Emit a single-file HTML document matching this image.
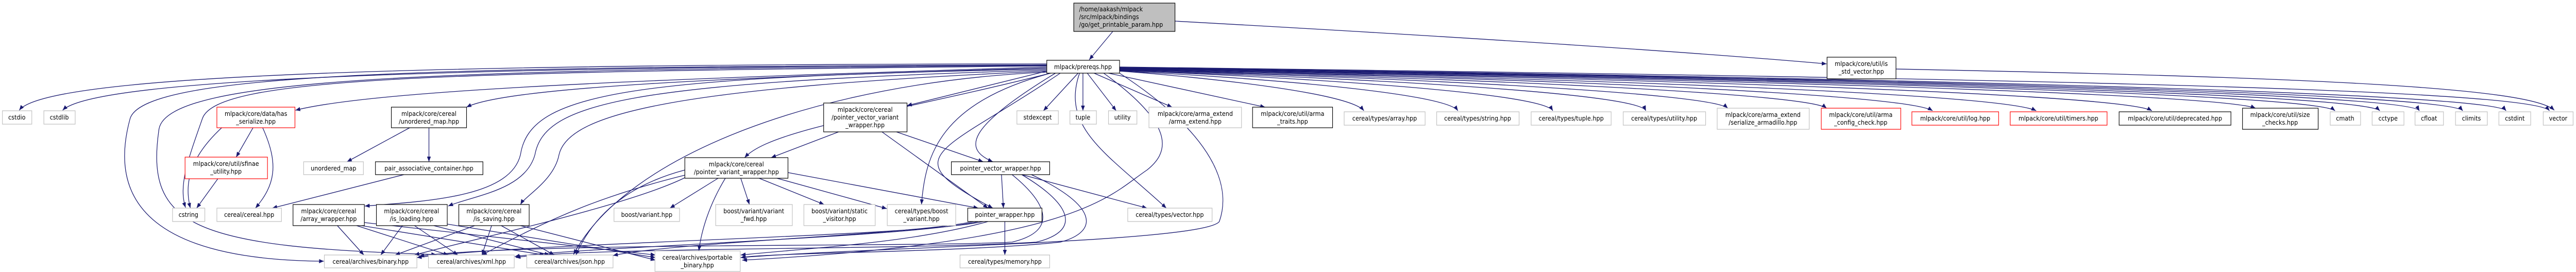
<!DOCTYPE html>
<html><head><meta charset="utf-8"><style>
html,body{margin:0;padding:0;background:#fff;width:100%;height:100%;overflow:hidden}
svg{display:block;position:absolute;left:0;top:0;width:100%;height:100%}
svg text{font-family:"DejaVu Sans","Liberation Sans",sans-serif;font-size:12px;fill:#000}
.e{fill:none;stroke:#191970;stroke-width:1.3}
.b{fill:#fff;stroke:#000;stroke-width:1.2}
.g{fill:#fff;stroke:#bfbfbf;stroke-width:1.2}
.r{fill:#fff;stroke:#ff0000;stroke-width:1.2}
</style></head><body>
<svg viewBox="0 0 5345 528" preserveAspectRatio="none" xmlns="http://www.w3.org/2000/svg">
<defs><marker id="a" markerWidth="10" markerHeight="8" refX="10" refY="4" orient="auto" markerUnits="userSpaceOnUse"><path d="M0,0 L10,4 L0,8 z" fill="#191970"/></marker></defs>
<g class="e" marker-end="url(#a)">
<path d="M2309,61 L2260,116"/>
<path d="M2438,41 C3000,70 3500,100 3790,124"/>
<path d="M3934,134 C4800,150 5250,170 5300,214"/>
<path d="M2172,124 C1000,125 100,140 40,214"/>
<path d="M2172,126 C1000,130 200,150 130,214"/>
<path d="M2172,130 C1500,150 800,170 613,214"/>
<path d="M2172,132 C1500,150 1050,170 968,208"/>
<path d="M2172,128 C900,140 450,150 420,230 C390,310 370,360 385,403"/>
<path d="M2172,126 C900,130 300,140 270,230 C220,400 330,505 672,507"/>
<path d="M2172,127 C900,135 350,150 330,250 C300,440 400,480 905,494"/>
<path d="M2172,140 C1700,160 1300,300 1190,494"/>
<path d="M2172,134 C1300,150 1100,180 1080,300 C1060,380 900,390 757,400"/>
<path d="M2172,136 C1300,160 1130,200 1110,300 C1090,370 980,380 930,400"/>
<path d="M2172,138 C1400,170 1180,220 1160,300 C1150,350 1090,380 1080,397"/>
<path d="M2172,138 L1882,205"/>
<path d="M2180,142 C1850,220 1600,250 1545,306"/>
<path d="M2190,142 C2000,250 2000,290 2060,314"/>
<path d="M2200,142 C1950,300 1850,300 2060,404"/>
<path d="M2180,142 C1950,200 1920,300 1912,397"/>
<path d="M2240,142 C2200,250 2300,300 2420,404"/>
<path d="M2323,142 C2500,250 2560,350 2530,430 C2500,470 1800,480 1537,500"/>
<path d="M2290,142 C2450,250 2420,300 2380,330 C2300,380 2240,470 1540,505"/>
<path d="M2237,142 L2165,215"/>
<path d="M2247,142 L2247,215"/>
<path d="M2256,142 L2316,215"/>
<path d="M2270,142 L2432,208"/>
<path d="M2300,142 L2625,208"/>
<path d="M2323,138 C2500,150 2800,180 2830,215"/>
<path d="M2323,138 C2600,150 3000,180 3025,215"/>
<path d="M2323,137 C2700,150 3200,180 3222,215"/>
<path d="M2323,137 C2800,150 3400,180 3415,215"/>
<path d="M2323,136 C2900,150 3550,180 3585,210"/>
<path d="M2323,136 C3000,150 3750,180 3790,210"/>
<path d="M2323,135 C3100,150 3950,180 4010,215"/>
<path d="M2323,135 C3200,150 4150,180 4225,215"/>
<path d="M2323,134 C3300,150 4400,180 4465,215"/>
<path d="M2323,134 C3400,150 4600,180 4680,210"/>
<path d="M2323,133 C3500,150 4800,180 4845,215"/>
<path d="M2323,133 C3600,150 4900,180 4938,215"/>
<path d="M2323,132 C3700,150 5000,180 5020,215"/>
<path d="M2323,132 C3800,150 5080,180 5110,215"/>
<path d="M2323,131 C3900,150 5170,180 5200,215"/>
<path d="M2323,130 C4000,150 5250,170 5290,215"/>
<path d="M525,248 L490,305"/>
<path d="M460,248 C400,300 380,350 395,404"/>
<path d="M545,248 C580,320 570,360 530,404"/>
<path d="M452,347 L408,404"/>
<path d="M850,248 L720,314"/>
<path d="M890,248 L890,314"/>
<path d="M838,339 L565,404"/>
<path d="M700,438 L755,495"/>
<path d="M740,438 L930,495"/>
<path d="M750,438 L1130,495"/>
<path d="M756,432 L1360,495"/>
<path d="M835,438 L790,495"/>
<path d="M860,438 L950,495"/>
<path d="M900,438 L1140,495"/>
<path d="M928,435 L1360,500"/>
<path d="M985,438 L820,495"/>
<path d="M1020,438 L1000,495"/>
<path d="M1040,438 L1150,495"/>
<path d="M1080,438 L1360,505"/>
<path d="M1740,256 L1600,306"/>
<path d="M1860,256 L2040,314"/>
<path d="M1830,256 L2050,404"/>
<path d="M1490,346 L1390,404"/>
<path d="M1537,346 L1555,397"/>
<path d="M1575,346 L1710,397"/>
<path d="M1612,346 L1840,405"/>
<path d="M1635,335 L2030,404"/>
<path d="M1421,340 C1250,380 1150,420 1000,495"/>
<path d="M1421,330 C1300,360 1230,420 1195,495"/>
<path d="M1505,346 C1470,400 1455,450 1450,487"/>
<path d="M1421,345 C1300,400 1000,460 860,495"/>
<path d="M2078,339 L2082,404"/>
<path d="M2120,339 L2380,404"/>
<path d="M2100,339 C2180,400 2190,450 2100,470 C1900,480 1100,470 870,497"/>
<path d="M2120,339 C2230,400 2240,450 2150,470 C1900,485 1200,480 1070,500"/>
<path d="M2140,339 C2280,400 2280,450 2200,470 C2000,490 1600,490 1537,500"/>
<path d="M2085,430 L2085,495"/>
<path d="M2040,430 C1900,460 1100,470 865,500"/>
<path d="M2030,430 C1900,460 1200,480 1068,498"/>
<path d="M2020,430 C1900,455 1400,470 1272,496"/>
<path d="M2050,430 C1900,470 1700,480 1537,495"/>
</g>
<g>
<rect x="2228" y="6" width="210" height="55" fill="#bfbfbf" stroke="#000" stroke-width="1.2"/>
<text x="2239" y="22">/home/aakash/mlpack</text><text x="2239" y="37">/src/mlpack/bindings</text><text x="2239" y="52">/go/get_printable_param.hpp</text>
<rect class="b" x="2172" y="117" width="151" height="25"/><text x="2247" y="134" text-anchor="middle">mlpack/prereqs.hpp</text>
<rect class="b" x="3791" y="111" width="143" height="42"/><text x="3862" y="128" text-anchor="middle">mlpack/core/util/is</text><text x="3862" y="143" text-anchor="middle">_std_vector.hpp</text>
</g>
<g text-anchor="middle">
<rect class="g" x="5" y="215" width="61" height="26"/><text x="35" y="232">cstdio</text>
<rect class="g" x="91" y="215" width="65" height="26"/><text x="123" y="232">cstdlib</text>
<rect class="r" x="450" y="208" width="162" height="40"/><text x="531" y="225">mlpack/core/data/has</text><text x="531" y="240">_serialize.hpp</text>
<rect class="b" x="812" y="208" width="156" height="40"/><text x="890" y="225">mlpack/core/cereal</text><text x="890" y="240">/unordered_map.hpp</text>
<rect class="b" x="1709" y="200" width="173" height="56"/><text x="1795" y="217">mlpack/core/cereal</text><text x="1795" y="232">/pointer_vector_variant</text><text x="1795" y="247">_wrapper.hpp</text>
<rect class="g" x="2110" y="215" width="86" height="26"/><text x="2153" y="232">stdexcept</text>
<rect class="g" x="2220" y="215" width="55" height="26"/><text x="2247" y="232">tuple</text>
<rect class="g" x="2300" y="215" width="59" height="26"/><text x="2329" y="232">utility</text>
<rect class="g" x="2384" y="208" width="192" height="40"/><text x="2480" y="225">mlpack/core/arma_extend</text><text x="2480" y="240">/arma_extend.hpp</text>
<rect class="b" x="2599" y="208" width="166" height="40"/><text x="2682" y="225">mlpack/core/util/arma</text><text x="2682" y="240">_traits.hpp</text>
<rect class="g" x="2789" y="217" width="168" height="26"/><text x="2873" y="234">cereal/types/array.hpp</text>
<rect class="g" x="2981" y="217" width="171" height="26"/><text x="3066" y="234">cereal/types/string.hpp</text>
<rect class="g" x="3177" y="217" width="166" height="26"/><text x="3260" y="234">cereal/types/tuple.hpp</text>
<rect class="g" x="3368" y="217" width="171" height="26"/><text x="3453" y="234">cereal/types/utility.hpp</text>
<rect class="g" x="3563" y="210" width="191" height="41"/><text x="3658" y="227">mlpack/core/arma_extend</text><text x="3658" y="242">/serialize_armadillo.hpp</text>
<rect class="r" x="3779" y="210" width="165" height="41"/><text x="3861" y="227">mlpack/core/util/arma</text><text x="3861" y="242">_config_check.hpp</text>
<rect class="r" x="3967" y="217" width="180" height="26"/><text x="4057" y="234">mlpack/core/util/log.hpp</text>
<rect class="r" x="4171" y="217" width="201" height="26"/><text x="4271" y="234">mlpack/core/util/timers.hpp</text>
<rect class="b" x="4397" y="217" width="232" height="26"/><text x="4513" y="234">mlpack/core/util/deprecated.hpp</text>
<rect class="b" x="4653" y="210" width="157" height="41"/><text x="4731" y="227">mlpack/core/util/size</text><text x="4731" y="242">_checks.hpp</text>
<rect class="g" x="4835" y="217" width="63" height="26"/><text x="4866" y="234">cmath</text>
<rect class="g" x="4922" y="217" width="66" height="26"/><text x="4955" y="234">cctype</text>
<rect class="g" x="5011" y="217" width="59" height="26"/><text x="5040" y="234">cfloat</text>
<rect class="g" x="5095" y="217" width="66" height="26"/><text x="5128" y="234">climits</text>
<rect class="g" x="5185" y="217" width="66" height="26"/><text x="5218" y="234">cstdint</text>
<rect class="g" x="5277" y="217" width="62" height="26"/><text x="5308" y="234">vector</text>

<rect class="r" x="384" y="305" width="171" height="42"/><text x="469" y="322">mlpack/core/util/sfinae</text><text x="469" y="337">_utility.hpp</text>
<rect class="g" x="630" y="314" width="124" height="25"/><text x="692" y="331">unordered_map</text>
<rect class="b" x="779" y="314" width="223" height="25"/><text x="890" y="331">pair_associative_container.hpp</text>
<rect class="b" x="1421" y="306" width="214" height="40"/><text x="1528" y="323">mlpack/core/cereal</text><text x="1528" y="338">/pointer_variant_wrapper.hpp</text>
<rect class="b" x="1974" y="314" width="204" height="25"/><text x="2076" y="331">pointer_vector_wrapper.hpp</text>

<rect class="g" x="358" y="404" width="67" height="26"/><text x="391" y="421">cstring</text>
<rect class="g" x="450" y="404" width="134" height="26"/><text x="517" y="421">cereal/cereal.hpp</text>
<rect class="b" x="608" y="397" width="148" height="41"/><text x="682" y="414">mlpack/core/cereal</text><text x="682" y="429">/array_wrapper.hpp</text>
<rect class="b" x="781" y="397" width="147" height="41"/><text x="854" y="414">mlpack/core/cereal</text><text x="854" y="429">/is_loading.hpp</text>
<rect class="b" x="952" y="397" width="146" height="41"/><text x="1025" y="414">mlpack/core/cereal</text><text x="1025" y="429">/is_saving.hpp</text>
<rect class="g" x="1274" y="404" width="136" height="26"/><text x="1342" y="421">boost/variant.hpp</text>
<rect class="g" x="1485" y="397" width="159" height="41"/><text x="1564" y="414">boost/variant/variant</text><text x="1564" y="429">_fwd.hpp</text>
<rect class="g" x="1668" y="397" width="148" height="41"/><text x="1742" y="414">boost/variant/static</text><text x="1742" y="429">_visitor.hpp</text>
<rect class="g" x="1841" y="397" width="142" height="41"/><text x="1912" y="414">cereal/types/boost</text><text x="1912" y="429">_variant.hpp</text>
<rect class="b" x="2008" y="404" width="154" height="26"/><text x="2085" y="421">pointer_wrapper.hpp</text>
<rect class="g" x="2340" y="404" width="175" height="26"/><text x="2427" y="421">cereal/types/vector.hpp</text>

<rect class="g" x="673" y="495" width="192" height="25"/><text x="769" y="512">cereal/archives/binary.hpp</text>
<rect class="g" x="889" y="495" width="178" height="25"/><text x="978" y="512">cereal/archives/xml.hpp</text>
<rect class="g" x="1093" y="495" width="179" height="25"/><text x="1182" y="512">cereal/archives/json.hpp</text>
<rect class="g" x="1359" y="487" width="177" height="40"/><text x="1447" y="504">cereal/archives/portable</text><text x="1447" y="519">_binary.hpp</text>
<rect class="g" x="1992" y="495" width="186" height="25"/><text x="2085" y="512">cereal/types/memory.hpp</text>
</g>
</svg>
</body></html>
